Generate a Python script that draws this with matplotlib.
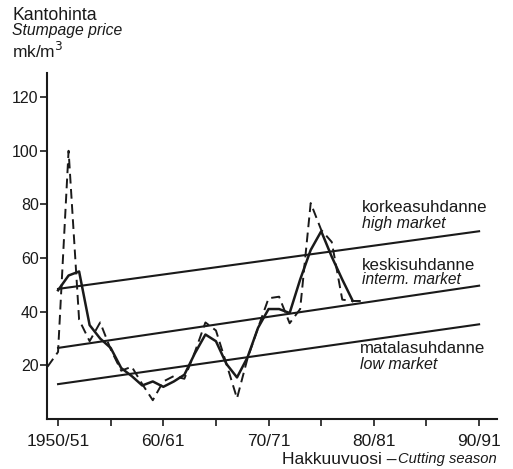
import matplotlib
matplotlib.use("Agg")
import matplotlib.pyplot as plt

# Kantohinnat (mk/m3), hakkuuvuodet 1949/50 - 1979/80
years_annual = list(range(1949, 1980))
price_annual = [19.5, 25, 100, 37, 29, 36, 26, 18, 19.5, 13,
                7, 14, 16, 15, 25, 36, 33, 20.5, 7.7, 22.6,
                34, 45, 45.6, 35.7, 41, 80.5, 70.5, 66, 44.5, 44,
                44]

# tasoitettu sarja (yhtenäinen viiva)
years_smooth = list(range(1950, 1979))
price_smooth = [48, 53.5, 55, 35, 30, 26.5, 19, 16, 12.5, 14,
                12, 14, 16.5, 24.5, 31.5, 29, 20.5, 15.5, 23, 34,
                41, 41, 39.5, 52, 63, 70, 60.5, 52, 44]

# suhdannetasot
trend_years = [1950, 1990]
high_market = [48.5, 70]
interm_market = [26.5, 49.7]
low_market = [13, 35.3]

major_ticks = [1950, 1960, 1970, 1980, 1990]
major_labels = ["1950/51", "60/61", "70/71", "80/81", "90/91"]
minor_ticks = [1955, 1965, 1975, 1985]
y_ticks = [20, 40, 60, 80, 100, 120]

W, H = 513, 469
plt.rcParams["font.family"] = ["Liberation Sans", "DejaVu Sans"]
ink = "#1a1a1a"

fig = plt.figure(figsize=(W / 100, H / 100), dpi=100)
ax = fig.add_axes([47 / W, 50 / H, 450 / W, 346 / H])

ax.plot(years_annual, price_annual, color=ink, lw=1.4, ls=(0, (5, 2.8)))
ax.plot(years_smooth, price_smooth, color=ink, lw=1.8)
for vals in (high_market, interm_market, low_market):
    ax.plot(trend_years, vals, color=ink, lw=1.5)

ax.set_xlim(1948.95, 1991.7)
ax.set_ylim(0, 129)
for side in ("top", "right"):
    ax.spines[side].set_visible(False)
for side in ("left", "bottom"):
    ax.spines[side].set_linewidth(1.5)
    ax.spines[side].set_color(ink)

ax.set_xticks(major_ticks)
ax.set_xticklabels(major_labels)
ax.set_xticks(minor_ticks, minor=True)
ax.set_yticks(y_ticks)
ax.tick_params(axis="both", which="both", direction="out", length=5,
               width=1.2, color=ink, labelcolor=ink)
ax.tick_params(axis="x", pad=6, labelsize=12.5)
ax.tick_params(axis="y", pad=1, labelsize=11.5)

def ftext(x, y, s, **kw):
    fig.text(x / W, 1 - y / H, s, color=ink, va="center", **kw)

ftext(12, 15, "Kantohinta", fontsize=12.7)
ftext(12, 31, "Stumpage price", fontsize=11.3, style="italic")
ftext(12, 51, "mk/m$^3$", fontsize=12.5)

ftext(362, 207, "korkeasuhdanne", fontsize=12.2)
ftext(362, 223, "high market", fontsize=11.5, style="italic")
ftext(362, 265, "keskisuhdanne", fontsize=12.2)
ftext(362, 280, "interm. market", fontsize=11.2, style="italic")
ftext(360, 348, "matalasuhdanne", fontsize=12.2)
ftext(360, 364, "low market", fontsize=11.5, style="italic")

ftext(497, 459, "Cutting season", fontsize=10.6, style="italic", ha="right")
ftext(397, 459, "Hakkuuvuosi \u2013", fontsize=12.6, ha="right")

fig.savefig("out.png", dpi=100, facecolor="white")
